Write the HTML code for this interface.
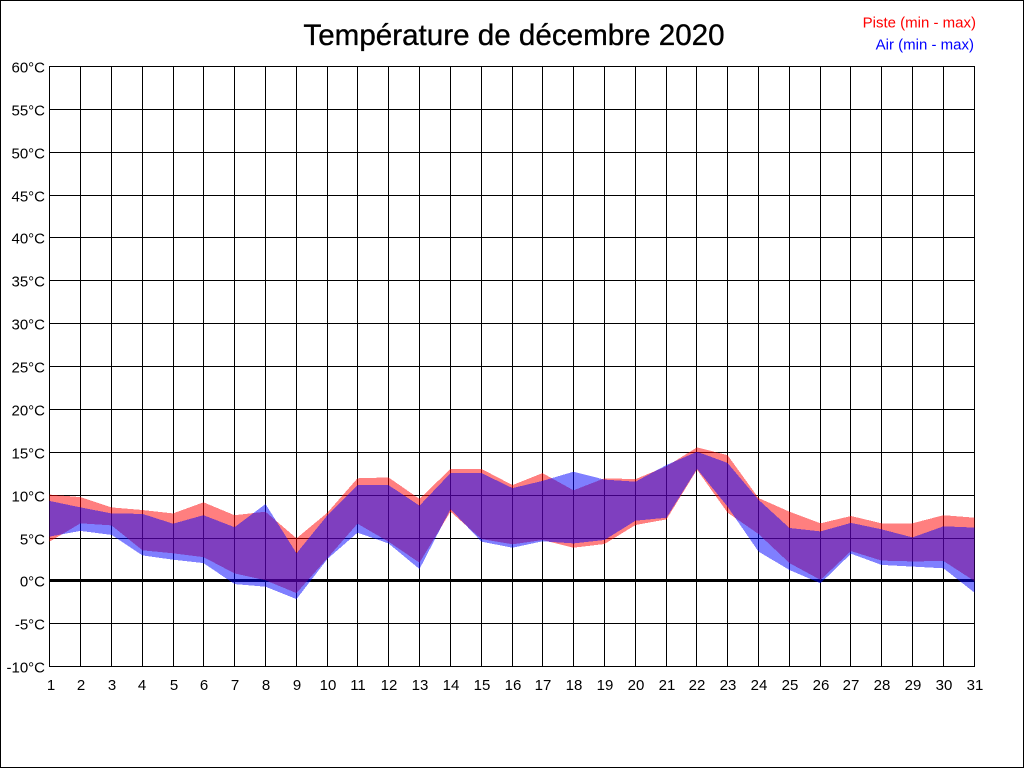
<!DOCTYPE html>
<html><head><meta charset="utf-8"><style>
html,body{margin:0;padding:0;background:#fff;}
svg{display:block;}
text{font-family:"Liberation Sans",Arial,sans-serif;}
</style></head><body>
<svg width="1024" height="768" viewBox="0 0 1024 768" xmlns="http://www.w3.org/2000/svg">
<rect x="0" y="0" width="1024" height="768" fill="#fff"/>
<rect x="0.5" y="0.5" width="1023" height="767" fill="none" stroke="#000" stroke-width="1"/>

<text x="514" y="45" font-size="29.6" text-anchor="middle" fill="#000" stroke="#000" stroke-width="0.35">Température de décembre 2020</text>
<text x="976" y="27.5" font-size="15" text-anchor="end" fill="#ff0000">Piste (min - max)</text>
<text x="974" y="49.5" font-size="15" text-anchor="end" fill="#0000ff">Air (min - max)</text>

<g stroke="#000" stroke-width="1" shape-rendering="crispEdges">
<line x1="49" y1="66.5" x2="975" y2="66.5"/>
<line x1="49" y1="109.5" x2="975" y2="109.5"/>
<line x1="49" y1="152.5" x2="975" y2="152.5"/>
<line x1="49" y1="195.5" x2="975" y2="195.5"/>
<line x1="49" y1="237.5" x2="975" y2="237.5"/>
<line x1="49" y1="280.5" x2="975" y2="280.5"/>
<line x1="49" y1="323.5" x2="975" y2="323.5"/>
<line x1="49" y1="366.5" x2="975" y2="366.5"/>
<line x1="49" y1="409.5" x2="975" y2="409.5"/>
<line x1="49" y1="452.5" x2="975" y2="452.5"/>
<line x1="49" y1="495.5" x2="975" y2="495.5"/>
<line x1="49" y1="538.5" x2="975" y2="538.5"/>
<line x1="49" y1="623.5" x2="975" y2="623.5"/>
<line x1="49" y1="666.5" x2="975" y2="666.5"/>
<line x1="49" y1="580.5" x2="975" y2="580.5" stroke-width="3"/>

<line x1="49.5" y1="66" x2="49.5" y2="667"/>
<line x1="80.5" y1="66" x2="80.5" y2="667"/>
<line x1="111.5" y1="66" x2="111.5" y2="667"/>
<line x1="142.5" y1="66" x2="142.5" y2="667"/>
<line x1="173.5" y1="66" x2="173.5" y2="667"/>
<line x1="203.5" y1="66" x2="203.5" y2="667"/>
<line x1="234.5" y1="66" x2="234.5" y2="667"/>
<line x1="265.5" y1="66" x2="265.5" y2="667"/>
<line x1="296.5" y1="66" x2="296.5" y2="667"/>
<line x1="327.5" y1="66" x2="327.5" y2="667"/>
<line x1="357.5" y1="66" x2="357.5" y2="667"/>
<line x1="388.5" y1="66" x2="388.5" y2="667"/>
<line x1="419.5" y1="66" x2="419.5" y2="667"/>
<line x1="450.5" y1="66" x2="450.5" y2="667"/>
<line x1="481.5" y1="66" x2="481.5" y2="667"/>
<line x1="512.5" y1="66" x2="512.5" y2="667"/>
<line x1="542.5" y1="66" x2="542.5" y2="667"/>
<line x1="573.5" y1="66" x2="573.5" y2="667"/>
<line x1="604.5" y1="66" x2="604.5" y2="667"/>
<line x1="635.5" y1="66" x2="635.5" y2="667"/>
<line x1="666.5" y1="66" x2="666.5" y2="667"/>
<line x1="696.5" y1="66" x2="696.5" y2="667"/>
<line x1="727.5" y1="66" x2="727.5" y2="667"/>
<line x1="758.5" y1="66" x2="758.5" y2="667"/>
<line x1="789.5" y1="66" x2="789.5" y2="667"/>
<line x1="820.5" y1="66" x2="820.5" y2="667"/>
<line x1="850.5" y1="66" x2="850.5" y2="667"/>
<line x1="881.5" y1="66" x2="881.5" y2="667"/>
<line x1="912.5" y1="66" x2="912.5" y2="667"/>
<line x1="943.5" y1="66" x2="943.5" y2="667"/>
<line x1="974.5" y1="66" x2="974.5" y2="667"/>
</g>

<polygon fill="#ff0000" fill-opacity="0.5" shape-rendering="crispEdges" points="
49.5,494.6 80.5,497.1 111.5,507.4 142.5,510.0 173,513.4 203.5,502.3 234.5,515.2 265.5,511.7 296.5,538.3 327.5,512.6 357.5,478.3 388.5,477.4 419.5,498.9 450.5,468.9 481.5,468.9 512.5,485.1 542.5,473.1 573.5,490.3 604.5,478.3 635.5,479.1 666.5,466.3 697,447.4 727.5,455.1 758.5,498.0 789.5,511.7 820.5,523.3 851,516.0 881.5,523.3 912.5,523.3 943.5,515.2 974.5,517.7
974.5,581.1 943.5,561.0 912.5,561.4 881.5,560.6 851,551.1 820.5,579.9 789.5,563.1 758.5,534.0 727.5,512.6 697,469.7 666.5,519.4 635.5,525.0 604.5,544.0 573.5,547.7 542.5,540.0 512.5,544.3 481.5,539.1 450.5,511.7 419.5,562.7 388.5,541.7 357.5,523.7 327.5,558.0 296.5,593.1 265.5,580.3 234.5,573.4 203.5,557.1 173,553.3 142.5,550.3 111.5,525.4 80.5,523.3 49.5,541.7"/>

<polygon fill="#0000ff" fill-opacity="0.5" shape-rendering="crispEdges" points="
49.5,500.9 80.5,507.4 111.5,513.4 142.5,513.9 173,523.7 203.5,515.2 234.5,527.2 265.5,504.0 296.5,553.3 327.5,515.2 357.5,485.1 388.5,485.1 419.5,505.7 450.5,473.1 481.5,473.1 512.5,488.1 542.5,480.9 573.5,471.7 604.5,479.6 635.5,481.7 666.5,465.0 697,451.7 727.5,462.9 758.5,499.7 789.5,528.0 820.5,531.4 851,522.9 881.5,529.3 912.5,537.4 943.5,526.3 974.5,527.6
974.5,592.7 943.5,568.3 912.5,566.6 881.5,564.9 851,553.7 820.5,583.3 789.5,570.0 758.5,551.6 727.5,506.6 697,468.9 666.5,517.7 635.5,520.7 604.5,540.0 573.5,543.4 542.5,541.3 512.5,547.7 481.5,541.7 450.5,509.1 419.5,569.1 388.5,543.4 357.5,532.7 327.5,558.9 296.5,599.1 265.5,586.7 234.5,584.1 203.5,563.1 173,559.7 142.5,555.4 111.5,534.9 80.5,530.9 49.5,536.6"/>

<g font-size="15" fill="#000" text-anchor="end">
<text x="45" y="72.5">60°C</text>
<text x="45" y="115.5">55°C</text>
<text x="45" y="158.5">50°C</text>
<text x="45" y="201.5">45°C</text>
<text x="45" y="243.5">40°C</text>
<text x="45" y="286.5">35°C</text>
<text x="45" y="329.5">30°C</text>
<text x="45" y="372.5">25°C</text>
<text x="45" y="415.5">20°C</text>
<text x="45" y="458.5">15°C</text>
<text x="45" y="501.5">10°C</text>
<text x="45" y="544.5">5°C</text>
<text x="45" y="586.5">0°C</text>
<text x="45" y="629.5">-5°C</text>
<text x="45" y="672.5">-10°C</text>
</g>

<g font-size="15" fill="#000" text-anchor="middle">
<text x="51" y="690">1</text>
<text x="81" y="690">2</text>
<text x="112" y="690">3</text>
<text x="142" y="690">4</text>
<text x="174" y="690">5</text>
<text x="204" y="690">6</text>
<text x="235" y="690">7</text>
<text x="266" y="690">8</text>
<text x="297" y="690">9</text>
<text x="328" y="690">10</text>
<text x="358" y="690">11</text>
<text x="389" y="690">12</text>
<text x="420" y="690">13</text>
<text x="451" y="690">14</text>
<text x="482" y="690">15</text>
<text x="513" y="690">16</text>
<text x="543" y="690">17</text>
<text x="574" y="690">18</text>
<text x="605" y="690">19</text>
<text x="636" y="690">20</text>
<text x="667" y="690">21</text>
<text x="697" y="690">22</text>
<text x="728" y="690">23</text>
<text x="759" y="690">24</text>
<text x="790" y="690">25</text>
<text x="821" y="690">26</text>
<text x="851" y="690">27</text>
<text x="882" y="690">28</text>
<text x="913" y="690">29</text>
<text x="944" y="690">30</text>
<text x="975" y="690">31</text>
</g>
</svg>
</body></html>
